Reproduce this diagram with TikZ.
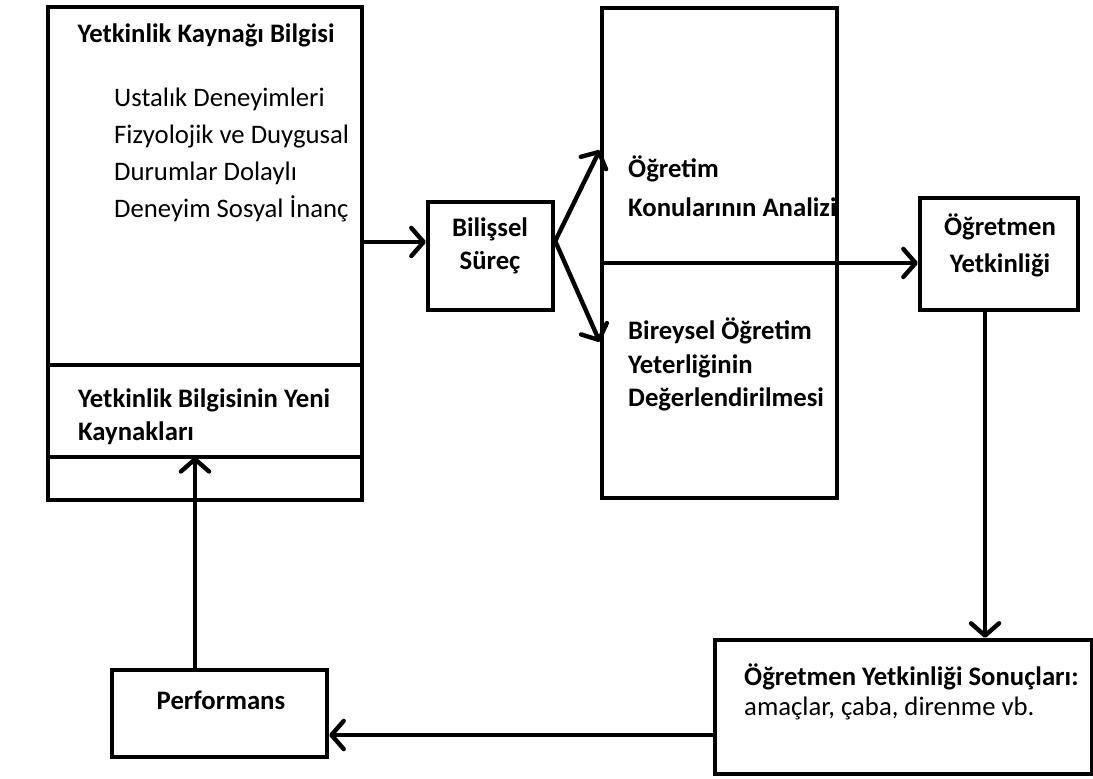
\documentclass[tikz,border=0pt]{standalone}
\usepackage{fontspec}
\setmainfont{Carlito}
\usetikzlibrary{arrows.meta}

\begin{document}
\begin{tikzpicture}[
		kutu/.style={draw, line width=2.5pt, inner sep=0pt},
		baslik/.style={align=left, font=\fontsize{15.2}{19}\selectfont\bfseries},
		liste/.style={align=left, font=\fontsize{15.2}{21}\selectfont},
		cizgi/.style={line width=2.5pt},
		ok/.style={line width=2.5pt, -{Straight Barb[round,length=7pt,width=16pt]}}
	]
		\useasboundingbox (0,0) rectangle (21.86,15.56);

		\node[kutu, minimum width=6.28cm, minimum height=9.86cm] (kaynak) at (4.10,10.49) {};
		\draw[cizgi] (kaynak.west |- 0,8.26) -- (kaynak.east |- 0,8.26);
		\draw[cizgi] (kaynak.west |- 0,6.42) -- (kaynak.east |- 0,6.42);
		\node[baslik] (kaynakbaslik) at (4.12,14.86) {Yetkinlik Kaynağı Bilgisi};
		\node[liste, anchor=west] (kaynaklar) at (2.16,12.46) {Ustalık Deneyimleri\\Fizyolojik ve Duygusal\\Durumlar Dolaylı\\Deneyim Sosyal İnanç};
		\node[baslik, anchor=west] (yenikaynak) at (1.44,7.23) {Yetkinlik Bilgisinin Yeni\\Kaynakları};

		\node[kutu, minimum width=2.5cm, minimum height=2.16cm] (bilis) at (9.81,10.44) {};
		\node[baslik, align=center] (bilisyazi) at (9.80,10.64) {Bilişsel\\Süreç};

		\node[kutu, minimum width=4.70cm, minimum height=9.80cm] (analiz) at (14.39,10.50) {};
		\node[baslik, anchor=west] (konular) at (12.44,11.84) {Öğretim\\[3pt]Konularının Analizi};
		\node[baslik, anchor=west] (bireysel) at (12.44,8.27) {Bireysel Öğretim\\Yeterliğinin\\Değerlendirilmesi};

		\node[kutu, minimum width=3.16cm, minimum height=2.24cm] (ogy) at (19.98,10.48) {};
		\node[baslik, align=center] (ogyyazi) at (20.00,10.66) {Öğretmen\\[2pt]Yetkinliği};

		\node[kutu, minimum width=7.54cm, minimum height=2.68cm] (sonuc) at (18.07,1.42) {};
		\node[baslik, anchor=west] (sonucbaslik) at (14.76,2.02) {Öğretmen Yetkinliği Sonuçları:};
		\node[liste, anchor=west] (sonucliste) at (14.76,1.40) {amaçlar, çaba, direnme vb.};

		\node[kutu, minimum width=4.30cm, minimum height=1.74cm] (perf) at (4.39,1.29) {};
		\node[baslik] (perfyazi) at (4.42,1.56) {Performans};

		\coordinate (bin) at (bilis.west |- 0,10.72);
		\coordinate (bout) at (bilis.east |- 0,10.74);
		\coordinate (ayrim) at (analiz.west |- 0,10.30);
		\coordinate (dikey) at (19.70,5);
		\coordinate (geri) at (10,0.86);
		\coordinate (yukari) at (3.90,6.42);

		\draw[ok] (kaynak.east |- bin) -- (bin);
		\draw[ok] (bout) -- (analiz.west |- 0,12.56);
		\draw[ok] (bout) -- (analiz.west |- 0,8.72);
		\draw[ok] (ayrim) -- (ayrim -| ogy.west);
		\draw[ok] (ogy.south -| dikey) -- (sonuc.north -| dikey);
		\draw[ok] (sonuc.west |- geri) -- (perf.east |- geri);
		\draw[ok] (perf.north -| yukari) -- (yukari);
	\end{tikzpicture}
\end{document}
